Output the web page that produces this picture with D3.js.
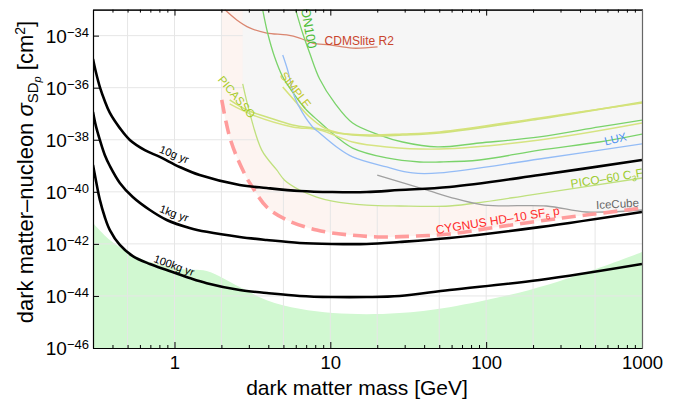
<!DOCTYPE html>
<html><head><meta charset="utf-8">
<script src="https://cdn.jsdelivr.net/npm/d3@7"></script>
<style>body{margin:0;background:#fff}svg text{font-family:"Liberation Sans",Arial,Helvetica,sans-serif}</style>
</head><body><svg id="chart" width="680" height="405"></svg>
<script>
// ---------- axis ticks ----------
const massTicks=[1,10,100,1000];
const massTickLabels=["1","10","100","1000"];
const sigmaTicks=[1e-46,1e-44,1e-42,1e-40,1e-38,1e-36,1e-34];
const sigmaTickLabels=["\u221246","\u221244","\u221242","\u221240","\u221238","\u221236","\u221234"];
const massGrid=[0.5,1,2,5,10,20,50,100,200,500];
const sigmaGrid=[1e-44,1e-42,1e-40,1e-38,1e-36,1e-34];

// ---------- projected sensitivities (CYGNUS exposures) ----------
const mass10g=[0.3,0.313,0.332,0.357,0.385,0.446,0.517,0.645,0.805,1.08,1.45,2.62,3.91,6.36,10.3,17.1,27.8,58.2,220,1000];
const sigma10g=[1.27e-35,4.0e-36,1.06e-36,3.1e-37,1.07e-37,2.8e-38,9.8e-39,4.0e-39,2.2e-39,9.0e-40,4.4e-40,1.83e-40,1.40e-40,1.08e-40,9.8e-41,9.8e-41,1.17e-40,1.53e-40,4.4e-40,1.67e-39];
const mass1kg=[0.3,0.313,0.332,0.357,0.385,0.446,0.54,0.695,0.892,1.25,1.61,2.62,3.91,6.36,10.3,17.1,27.8,58.2,220,1000];
const sigma1kg=[1.16e-37,3.4e-38,9.8e-39,2.6e-39,9.8e-40,2.2e-40,6.3e-41,2.0e-41,8.3e-42,4.1e-42,2.9e-42,1.84e-42,1.41e-42,1.08e-42,9.9e-43,9.9e-43,1.18e-42,1.68e-42,4.4e-42,1.68e-41];
const mass100kg=[0.3,0.313,0.332,0.357,0.385,0.446,0.54,0.695,0.892,1.25,1.61,2.62,3.91,6.36,10.3,17.1,27.8,58.2,220,1000];
const sigma100kg=[1.07e-39,2.8e-40,4.9e-41,1.08e-41,3.4e-42,9.1e-43,3.4e-43,1.69e-43,9.9e-44,4.9e-44,3.1e-44,1.69e-44,1.30e-44,1.0e-44,9.1e-45,9.1e-45,1.0e-44,1.69e-44,4.1e-44,1.69e-43];

// ---------- CYGNUS HD-10 SF6 ----------
const massCygnus=[2.01,2.13,2.26,2.51,2.91,3.04,3.91,5.25,8.17,13.3,21.6,35.7,58.2,116,308,557,1000];
const sigmaCygnus=[3.4e-37,5.7e-38,1.28e-38,2.2e-39,3.4e-40,2.2e-40,2.6e-41,8.3e-42,3.4e-42,2.2e-42,1.84e-42,2.0e-42,2.4e-42,4.4e-42,9.9e-42,1.53e-41,2.4e-41];

// ---------- neutrino floor ----------
const massNu=[0.3,0.385,0.54,0.695,1.13,1.61,2.62,3.91,6.35,10.4,17.1,27.8,58.2,190,532,1000];
const sigmaNu=[6.3e-42,1.4e-42,3.7e-43,2.0e-43,1.07e-43,9.1e-44,2.2e-44,6.9e-45,3.2e-45,2.2e-45,2.0e-45,2.2e-45,3.7e-45,1.7e-44,1.2e-43,4.9e-43];

// ---------- existing limits ----------
const massCDMSlite=[2.10,2.51,3.04,3.91,5.25,6.36,7.70,9.90,13.9,20.1];
const sigmaCDMSlite=[1.0e-33,4.0e-34,1.97e-34,1.26e-34,1.06e-34,8.1e-35,5.2e-35,4.4e-35,3.3e-35,3.7e-35];
const massXenon=[5.99,6.64,7.37,8.54,10.66,13.9,20.7,29.1,48.7,90.6,220,532,1000];
const sigmaXenon=[1.0e-33,1.26e-34,2.15e-35,2.16e-36,2.6e-37,4.4e-38,1.52e-38,8.2e-39,5.3e-39,7.5e-39,1.28e-38,3.1e-38,5.7e-38];
const massGreen2=[3.68,3.96,4.39,4.95,5.73,6.84,8.54,10.98,13.9,23.0,37.4,50.2,90.6,220,532,1000];
const sigmaGreen2=[1.0e-33,1.26e-34,1.51e-35,2.6e-36,6.8e-37,1.66e-37,4.8e-38,1.28e-38,4.8e-39,2.0e-39,1.40e-39,1.40e-39,1.67e-39,4.0e-39,8.2e-39,1.66e-38];
const massLUX=[4.95,5.32,5.90,6.64,7.70,8.54,10.98,13.9,23.0,33.7,50.2,220,1000];
const sigmaLUX=[1.80e-35,4.8e-36,4.4e-37,1.07e-37,3.1e-38,1.82e-38,5.3e-39,2.2e-39,9.0e-40,5.3e-40,5.3e-40,1.82e-39,6.9e-39];
const massPicassoA=[2.26,2.91,3.91,5.73,8.54,10.98,17.9,29.1,50.2,220,1000];
const sigmaPicassoA=[3.4e-37,1.39e-37,7.5e-38,3.7e-38,2.6e-38,1.82e-38,1.40e-38,1.52e-38,1.82e-38,6.3e-38,2.8e-37];
const massPicassoB=[2.26,3.18,5.73,8.54,13.9,23.0,50.2,220,1000];
const sigmaPicassoB=[2.37e-37,8.9e-38,3.1e-38,2.37e-38,8.2e-39,5.3e-39,4.4e-39,9.8e-39,4.4e-38];
const massSimple=[4.95,6.08,7.37,9.19,11.47,17.9,29.1,50.2,220,1000];
const sigmaSimple=[1.06e-36,2.6e-37,7.5e-38,2.8e-38,1.82e-38,1.52e-38,1.66e-38,1.99e-38,6.9e-38,2.6e-37];
const massPico60=[2.74,3.04,3.63,4.53,5.09,6.36,8.17,10.3,17.1,27.8,58.2,97.5,190,1000];
const sigmaPico60=[1.39e-36,1.07e-37,4.0e-39,6.9e-40,2.8e-40,1.17e-40,6.3e-41,4.4e-41,3.1e-41,2.85e-41,2.85e-41,4.1e-41,7.5e-41,3.4e-40];
const massIceCube=[20,43.3,58.2,97.5,243,439,1000];
const sigmaIceCube=[4.4e-40,1.08e-40,6.3e-41,3.1e-41,2.85e-41,1.68e-41,2.0e-41];

// ---------- layout ----------
const L=93,R=642,T=9.6,B=348;
const svg=d3.select("#chart");
const x=d3.scaleLog().domain([0.3,1000]).range([L,R]);
const y=d3.scaleLog().domain([1e-46,1e-33]).range([B,T]);
const zip=(a,b)=>a.map((v,i)=>[v,b[i]]);
const line=d3.line().x(d=>x(d[0])).y(d=>y(d[1])).curve(d3.curveCatmullRom.alpha(0.5));
const area=d3.line().x(d=>x(d[0])).y(d=>y(d[1]));

svg.append("defs").append("clipPath").attr("id","plot").append("rect")
  .attr("x",L).attr("y",T).attr("width",R-L).attr("height",B-T);
const g=svg.append("g").attr("clip-path","url(#plot)");

// neutrino floor
g.append("path").attr("d",line(zip(massNu,sigmaNu))
   +"L"+x(1000)+","+B+"L"+x(0.3)+","+B+"Z").attr("fill","#d1f8d1");
// CYGNUS reach band
g.append("path").attr("d",line(zip(massCygnus,sigmaCygnus))+"L"+x(1000)+","+T+"L"+x(massCygnus[0])+","+T+"Z")
  .attr("fill","#fdf4f1");
// grid
g.selectAll("line.gx").data(massGrid).join("line").attr("x1",d=>x(d)).attr("x2",d=>x(d))
  .attr("y1",T).attr("y2",B).attr("stroke","#e6e6e6").attr("stroke-width",1);
g.selectAll("line.gy").data(sigmaGrid).join("line").attr("y1",d=>y(d)).attr("y2",d=>y(d))
  .attr("x1",L).attr("x2",R).attr("stroke","#e6e6e6").attr("stroke-width",1);

// excluded region: above envelope of PICO-60 and IceCube
function interp(ms,ss,m){
  if(m<ms[0]||m>ms[ms.length-1]) return Infinity;
  for(let i=0;i<ms.length-1;i++){
    if(m>=ms[i]&&m<=ms[i+1]){
      const t=(Math.log(m)-Math.log(ms[i]))/(Math.log(ms[i+1])-Math.log(ms[i]));
      return Math.exp(Math.log(ss[i])+t*(Math.log(ss[i+1])-Math.log(ss[i])));
    }
  }
  return Infinity;
}
const env=[];
const m0=massPico60[0];
for(let k=0;k<=300;k++){
  const m=Math.exp(Math.log(m0)+k/300*(Math.log(1000)-Math.log(m0)));
  env.push([m,Math.min(interp(massPico60,sigmaPico60,m),interp(massIceCube,sigmaIceCube,m))]);
}
g.append("path").attr("d",area([[m0,1e-33],...env,[1000,1e-33]])).attr("fill","#f6f6f6");

// existing limit curves
const curves=[
  [massCDMSlite,sigmaCDMSlite,"#da8670",1.3],
  [massGreen2,sigmaGreen2,"#7ad36a",1.3],
  [massXenon,sigmaXenon,"#7ad36a",1.3],
  [massPicassoA,sigmaPicassoA,"#cde27c",1.6],
  [massSimple,sigmaSimple,"#d6e27a",1.6],
  [massPicassoB,sigmaPicassoB,"#d6e482",1.4],
  [massLUX,sigmaLUX,"#94bcf6",1.3],
  [massPico60,sigmaPico60,"#bfe07e",1.3],
  [massIceCube,sigmaIceCube,"#a0a0a0",1.3]
];
curves.forEach(c=>g.append("path").attr("d",line(zip(c[0],c[1]))).attr("fill","none")
  .attr("stroke",c[2]).attr("stroke-width",c[3]));

// CYGNUS HD-10 dashed
g.append("path").attr("d",line(zip(massCygnus,sigmaCygnus))).attr("fill","none")
  .attr("stroke","#ff9c9c").attr("stroke-width",3.6).attr("stroke-dasharray","14,7");

// exposure curves
[[mass10g,sigma10g],[mass1kg,sigma1kg],[mass100kg,sigma100kg]].forEach(c=>
  g.append("path").attr("d",line(zip(c[0],c[1]))).attr("fill","none")
   .attr("stroke","#000").attr("stroke-width",2.6));

// ---------- labels ----------
function label(m,s,rot,txt,col,size,anchor){
  const t=g.append("text").attr("transform",`translate(${x(m)},${y(s)}) rotate(${rot})`)
    .attr("fill",col).attr("font-size",size).attr("text-anchor",anchor||"start");
  if(typeof txt==="string") t.text(txt);
  else txt.forEach(p=>{const ts=t.append("tspan").text(p[0]); if(p[1]) ts.attr("dy",p[1]); if(p[2]) ts.attr("font-size",p[2]);});
  return t;
}
label(0.975,2.0e-39,22,"10g yr","#000",11,"middle");
label(0.975,1.08e-41,20,"1kg yr","#000",11,"middle");
label(0.975,1.08e-43,20,"100kg yr","#000",11,"middle");
label(9.19,4.4e-35,0,"CDMSlite R2","#c9452d",12);
label(7.2,3.0e-35,80,"XENON100","#4cbd35",13,"end");
label(5.99,8.2e-37,52,"SIMPLE","#c4c82c",11.5,"middle").attr("dy","0.35em");
label(2.51,4.4e-37,50,"PICASSO","#a8cc2a",11.5,"middle").attr("dy","0.35em");
label(675,1.07e-38,-14,"LUX","#4f92f2",11.5,"middle").attr("dy","0.35em");
label(352,1.40e-40,-9,[["PICO\u201360 C"],["3",3,8],["F",-3,12],["8",3,8]],"#9ccb2e",12);
label(509,2.2e-41,-3,"IceCube","#666666",11.5);
label(48,2.4e-42,-9,[["CYGNUS HD\u201310 SF"],["6",3,8],[" p",-3,12]],"#ff2a2a",12);

// ---------- axes ----------
const FF='"Liberation Sans",Arial,sans-serif';
const minorMass=[];
[0.1,1,10,100].forEach(d=>{for(let k=2;k<=9;k++){const v=d*k; if(v>=0.3&&v<=1000) minorMass.push(v);}});

const xb=svg.append("g").attr("transform",`translate(0,${B})`)
  .call(d3.axisBottom(x).tickValues(massTicks).tickFormat((d,i)=>massTickLabels[i]).tickSizeInner(-6).tickSizeOuter(0).tickPadding(8));
svg.append("g").attr("transform",`translate(0,${B})`)
  .call(d3.axisBottom(x).tickValues(minorMass).tickFormat("").tickSizeInner(-3).tickSizeOuter(0));
const xt1=svg.append("g").attr("transform",`translate(0,${T})`)
  .call(d3.axisTop(x).tickValues(massTicks).tickFormat("").tickSizeInner(-6).tickSizeOuter(0));
const xt2=svg.append("g").attr("transform",`translate(0,${T})`)
  .call(d3.axisTop(x).tickValues(minorMass).tickFormat("").tickSizeInner(-3).tickSizeOuter(0));
const yl=svg.append("g").attr("transform",`translate(${L},0)`)
  .call(d3.axisLeft(y).tickValues(sigmaTicks).tickFormat("").tickSizeInner(-6).tickSizeOuter(0).tickPadding(4));
const yr=svg.append("g").attr("transform",`translate(${R},0)`)
  .call(d3.axisRight(y).tickValues([]).tickSizeOuter(0));

svg.selectAll(".domain").attr("stroke","#000").attr("stroke-width",1.2);
xt1.select(".domain").attr("stroke","#666");
yr.select(".domain").attr("stroke","#666");
svg.selectAll(".tick line").attr("stroke","#000").attr("stroke-width",1);
xb.selectAll(".tick text").attr("font-family",FF).attr("font-size",18.5).attr("fill","#000");
yl.selectAll(".tick text").each(function(d,i){
  const t=d3.select(this).attr("font-family",FF).attr("font-size",19).attr("fill","#000").attr("dy","0.34em");
  t.append("tspan").text("10");
  t.append("tspan").attr("dy","-0.45em").attr("font-size",13).text(sigmaTickLabels[i]);
});

// axis titles
svg.append("text").attr("x",357).attr("y",395).attr("text-anchor","middle")
  .attr("font-size",21).attr("fill","#000").text("dark matter mass [GeV]");
const yt=svg.append("text").attr("transform","rotate(-90)").attr("x",-172).attr("y",33)
  .attr("text-anchor","middle").attr("font-size",22).attr("fill","#000");
yt.append("tspan").text("dark matter\u2013nucleon ");
yt.append("tspan").attr("font-style","italic").text("\u03c3");
yt.append("tspan").attr("dy",5).attr("font-size",15).text("SD");
yt.append("tspan").attr("dy",3).attr("font-size",11).attr("font-style","italic").text("p");
yt.append("tspan").attr("dy",-8).text(" [cm");
yt.append("tspan").attr("dy",-8).attr("font-size",14).text("2");
yt.append("tspan").attr("dy",8).text("]");
</script></body></html>
